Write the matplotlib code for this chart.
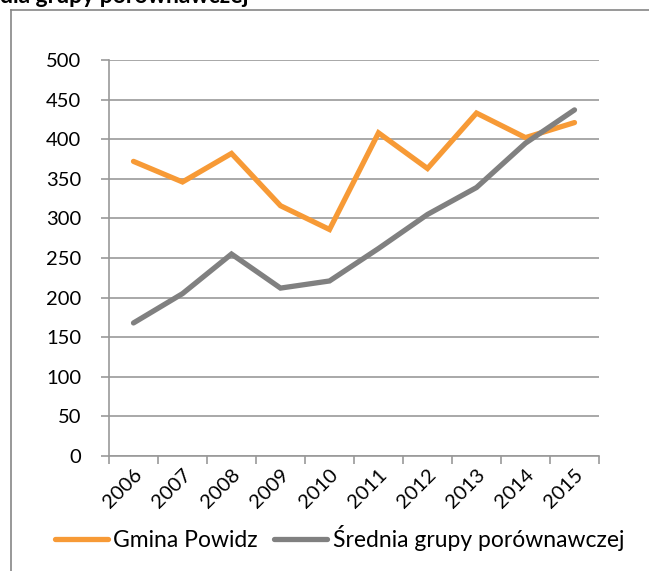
import matplotlib.pyplot as plt
import numpy as np
from matplotlib.lines import Line2D

plt.rcParams['font.family'] = ['Lato', 'DejaVu Sans']

# lata i wartosci obu serii
lata = ['2006', '2007', '2008', '2009', '2010', '2011', '2012', '2013', '2014', '2015']
gmina = [372, 346, 382, 316, 286, 408, 363, 433, 402, 421]
srednia = [168, 205, 255, 212, 221, 262, 305, 339, 395, 437]

W, H = 649, 571
fig = plt.figure(figsize=(W / 100, H / 100), dpi=100)

# ramka wykresu (lewa i gorna krawedz)
fig.add_artist(Line2D([11 / W, 11 / W], [0, 1 - 10 / H], color='#868686', lw=1.2))
fig.add_artist(Line2D([11 / W, 1], [1 - 10 / H, 1 - 10 / H], color='#868686', lw=1.2))

fig.text(0.0, 1 - 3 / H, 'dla grupy porównawczej', fontsize=16.5, fontweight='bold',
         ha='left', va='baseline')

ax = fig.add_axes([109 / W, 1 - 456 / H, 490 / W, 396 / H])
x = np.arange(len(lata))
ax.plot(x, gmina, color='#F79A36', lw=3.8, solid_joinstyle='miter', solid_capstyle='round',
        label='Gmina Powidz', zorder=3)
ax.plot(x, srednia, color='#808080', lw=3.8, solid_joinstyle='miter', solid_capstyle='round',
        label='Średnia grupy porównawczej', zorder=3)

ax.set_xlim(-0.5, len(lata) - 0.5)
ax.set_ylim(0, 500)
ax.set_yticks(range(0, 501, 50))
ax.yaxis.grid(True, color='#999999', lw=1.2)
ax.set_axisbelow(True)
for s in ['top', 'right']:
    ax.spines[s].set_visible(False)
ax.spines['left'].set_color('#999999')
ax.spines['bottom'].set_color('#999999')
ax.spines['left'].set_linewidth(1.2)
ax.spines['bottom'].set_linewidth(1.2)

ax.set_xticks(np.arange(-0.5, len(lata)), minor=False)
ax.set_xticklabels([])
ax.set_xticks(x, minor=True)
ax.set_xticklabels(lata, minor=True, rotation=45, ha='right', va='top',
                   rotation_mode='anchor', fontsize=14.5)
ax.tick_params(axis='x', which='major', length=6, color='#999999', width=1.2)
ax.tick_params(axis='x', which='minor', length=0, pad=7)
ax.tick_params(axis='y', length=6, color='#999999', width=1.2, labelsize=14.5, pad=14)

fig.legend(*ax.get_legend_handles_labels(), loc='center left',
           bbox_to_anchor=(55 / W, 1 - 538 / H), ncol=2, frameon=False,
           fontsize=16.5, handlelength=2.3, handletextpad=0.25, columnspacing=0.7,
           borderaxespad=0, borderpad=0)

fig.savefig('out.png', dpi=100)
